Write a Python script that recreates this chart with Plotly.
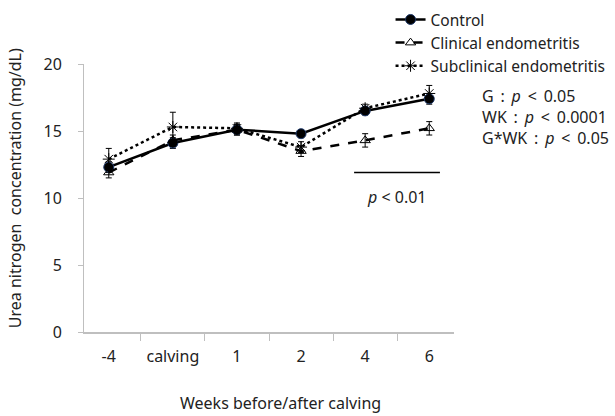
import plotly.graph_objects as go

categories = ["-4", "calving", "1", "2", "4", "6"]
control = [12.3, 14.1, 15.1, 14.8, 16.5, 17.4]
control_se = [0.4, 0.4, 0.4, 0.3, 0.3, 0.4]
clinical = [11.9, 14.3, 15.1, 13.5, 14.3, 15.2]
clinical_se = [0.4, 0.4, 0.4, 0.4, 0.5, 0.5]
subclinical = [12.9, 15.3, 15.2, 13.8, 16.7, 17.8]
subclinical_se = [0.8, 1.1, 0.4, 0.4, 0.3, 0.6]
SP = " \u2009"
stats = [f"G{SP}:{SP}<i>p</i>{SP}&lt;{SP}0.05",
         f"WK{SP}:{SP}<i>p</i>{SP}&lt;{SP}0.0001",
         f"G*WK{SP}:{SP}<i>p</i>{SP}&lt;{SP}0.05"]

FONT = "Noto Sans, Open Sans, sans-serif"
TXT = "#222"
fig = go.Figure()

fig.add_trace(go.Scatter(
    x=categories, y=control, name="Control", mode="lines+markers",
    line=dict(color="black", width=2.5, dash="solid"),
    marker=dict(symbol="circle", size=10, color="black", line=dict(color="#1f3a6b", width=1)),
    error_y=dict(type="data", array=control_se, color="black", thickness=1, width=3),
))
fig.add_trace(go.Scatter(
    x=categories, y=clinical, name="Clinical endometritis", mode="lines+markers",
    line=dict(color="black", width=2.5, dash="dash"),
    marker=dict(symbol="triangle-up-open", size=9, color="black", line=dict(color="black", width=1)),
    error_y=dict(type="data", array=clinical_se, color="black", thickness=1, width=3),
))
fig.add_trace(go.Scatter(
    x=categories, y=subclinical, name="Subclinical endometritis", mode="lines+markers",
    line=dict(color="black", width=2.5, dash="dot"),
    marker=dict(symbol="asterisk-open", size=10, color="black", line=dict(color="black", width=1)),
    error_y=dict(type="data", array=subclinical_se, color="black", thickness=1, width=3),
))

fig.add_shape(type="line", xref="paper", yref="y", x0=0.730, x1=0.962, y0=11.9, y1=11.9,
              line=dict(color="black", width=1.5))
fig.add_annotation(xref="paper", yref="y", x=0.845, y=10.1, text="<i>p</i> < 0.01",
                   xanchor="center", yanchor="middle",
                   showarrow=False, font=dict(size=16, color=TXT))

fig.add_annotation(xref="paper", yref="paper", x=1.071, y=0.804, text="<br>".join(stats),
                   xanchor="left", yanchor="middle", align="left", showarrow=False,
                   font=dict(size=16, color=TXT))

# axis titles
fig.add_annotation(xref="paper", yref="paper", x=0.531, y=-0.3134, text="Weeks before/after calving",
                   xanchor="center", yanchor="bottom", showarrow=False, font=dict(size=16, color=TXT))
fig.add_annotation(xref="paper", yref="paper", x=-0.186, y=0.537, text="Urea nitrogen  concentration (mg/dL)",
                   textangle=-90, xanchor="center", yanchor="middle", showarrow=False,
                   font=dict(size=16, color=TXT))

fig.update_layout(
    width=615, height=416,
    margin=dict(l=84, r=161, t=64, b=84, autoexpand=False),
    paper_bgcolor="white", plot_bgcolor="white",
    font=dict(family=FONT, size=16, color=TXT),
    showlegend=True,
    legend=dict(x=0.8285, y=1.228, xanchor="left", yanchor="top", bgcolor="rgba(0,0,0,0)",
                font=dict(size=15.5, color=TXT), tracegroupgap=0, itemwidth=30),
    xaxis=dict(type="category", showline=True, linecolor="#bfbfbf", linewidth=1.5,
               ticks="outside", tickson="boundaries", ticklen=7, tickcolor="#bfbfbf",
               ticklabelstandoff=9,
               showgrid=False, zeroline=False, tickfont=dict(size=16)),
    yaxis=dict(range=[0, 20], tickvals=[0, 5, 10, 15, 20], showline=True, linecolor="#bfbfbf",
               linewidth=1, ticks="outside", ticklen=5, tickcolor="#bfbfbf",
               ticklabelstandoff=13,
               showgrid=False, zeroline=False, tickfont=dict(size=16)),
)

fig.write_html("out.html")
